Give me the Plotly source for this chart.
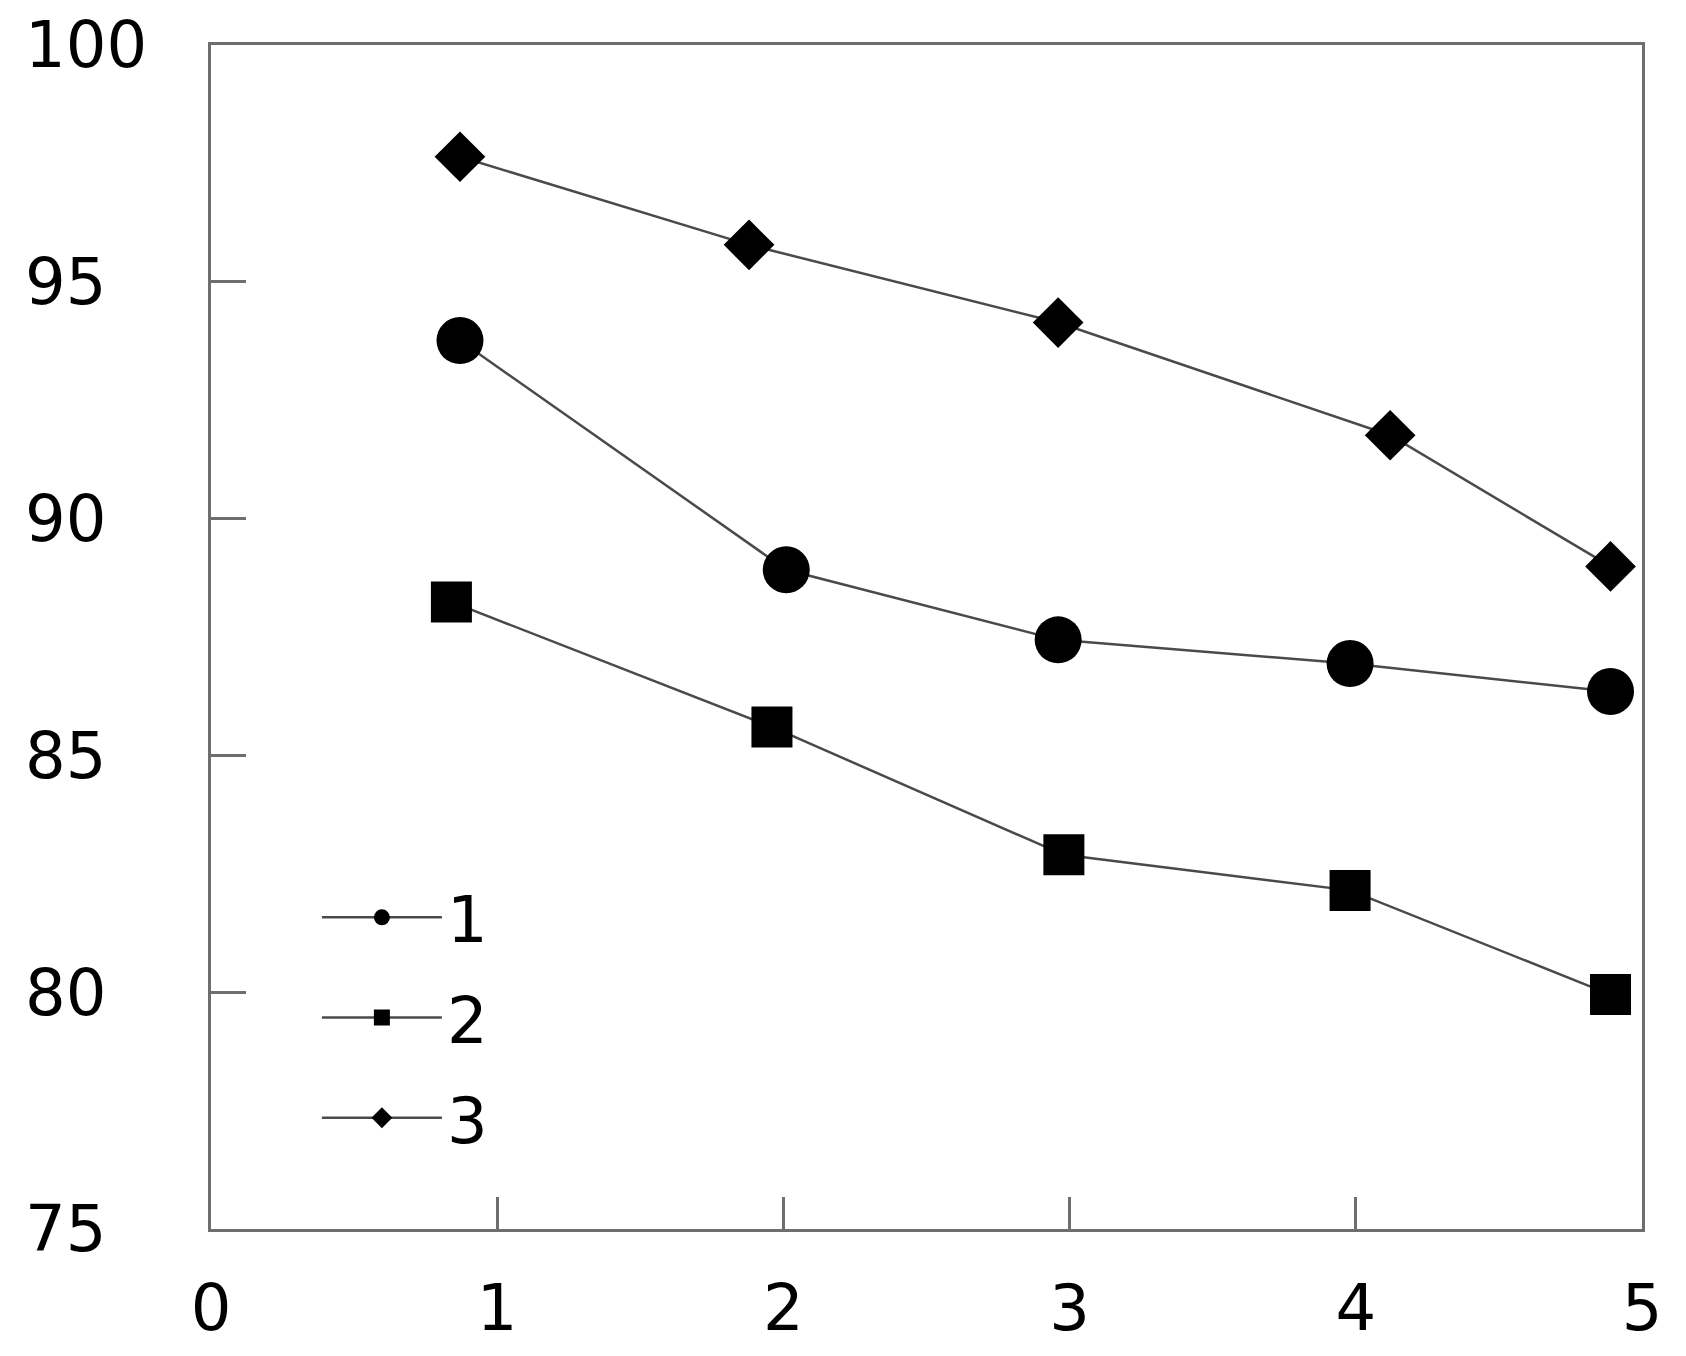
import plotly.graph_objects as go

# series
x1 = [0.87, 2.01, 2.96, 3.98, 4.89]
y1 = [93.76, 88.92, 87.44, 86.94, 86.35]

x2 = [0.84, 1.96, 2.98, 3.98, 4.89]
y2 = [88.24, 85.60, 82.90, 82.15, 79.95]

x3 = [0.87, 1.88, 2.96, 4.12, 4.89]
y3 = [97.64, 95.78, 94.14, 91.76, 88.99]

names = ["1", "2", "3"]
y_ticks = [75, 80, 85, 90, 95, 100]
# labels are left aligned in the original, pad two-digit ones with a figure space
y_labels = ["75\u2007", "80\u2007", "85\u2007", "90\u2007", "95\u2007", "100"]

FONT = "DejaVu Sans"
line_col = "#4a4a4a"
axis_col = "#6e6e6e"

fig = go.Figure()
fig.add_trace(go.Scatter(x=x1, y=y1, name=names[0], legendgroup="a", mode="lines+markers",
                         line=dict(color=line_col, width=2.5),
                         marker=dict(symbol="circle", size=47, color="black"),
                         cliponaxis=False))
fig.add_trace(go.Scatter(x=x2, y=y2, name=names[1], legendgroup="b", mode="lines+markers",
                         line=dict(color=line_col, width=2.5),
                         marker=dict(symbol="square", size=41, color="black"),
                         cliponaxis=False))
fig.add_trace(go.Scatter(x=x3, y=y3, name=names[2], legendgroup="c", mode="lines+markers",
                         line=dict(color=line_col, width=2.5),
                         marker=dict(symbol="diamond", size=39, color="black"),
                         cliponaxis=False))

fig.update_layout(
    width=1670, height=1340,
    margin=dict(l=203, r=36, t=37, b=119, autoexpand=False),
    paper_bgcolor="white", plot_bgcolor="white",
    font=dict(family=FONT, size=64, color="black"),
    legend=dict(x=0.074, y=0.053, xanchor="left", yanchor="bottom",
                bgcolor="rgba(0,0,0,0)", itemwidth=120,
                traceorder="grouped", tracegroupgap=14,
                font=dict(family=FONT, size=64)),
    xaxis=dict(range=[0, 5], dtick=1, tick0=0, showgrid=False, zeroline=False,
               showline=True, linecolor=axis_col, linewidth=3, mirror=True,
               ticks="inside", ticklen=32, tickwidth=3, tickcolor=axis_col,
               ticklabelstandoff=21, automargin=False),
    yaxis=dict(range=[75, 100], tickvals=y_ticks, ticktext=y_labels,
               showgrid=False, zeroline=False,
               showline=True, linecolor=axis_col, linewidth=3, mirror=True,
               ticks="inside", ticklen=35, tickwidth=3, tickcolor=axis_col,
               ticklabelstandoff=48, automargin=False),
)

fig.write_html("out.html")
